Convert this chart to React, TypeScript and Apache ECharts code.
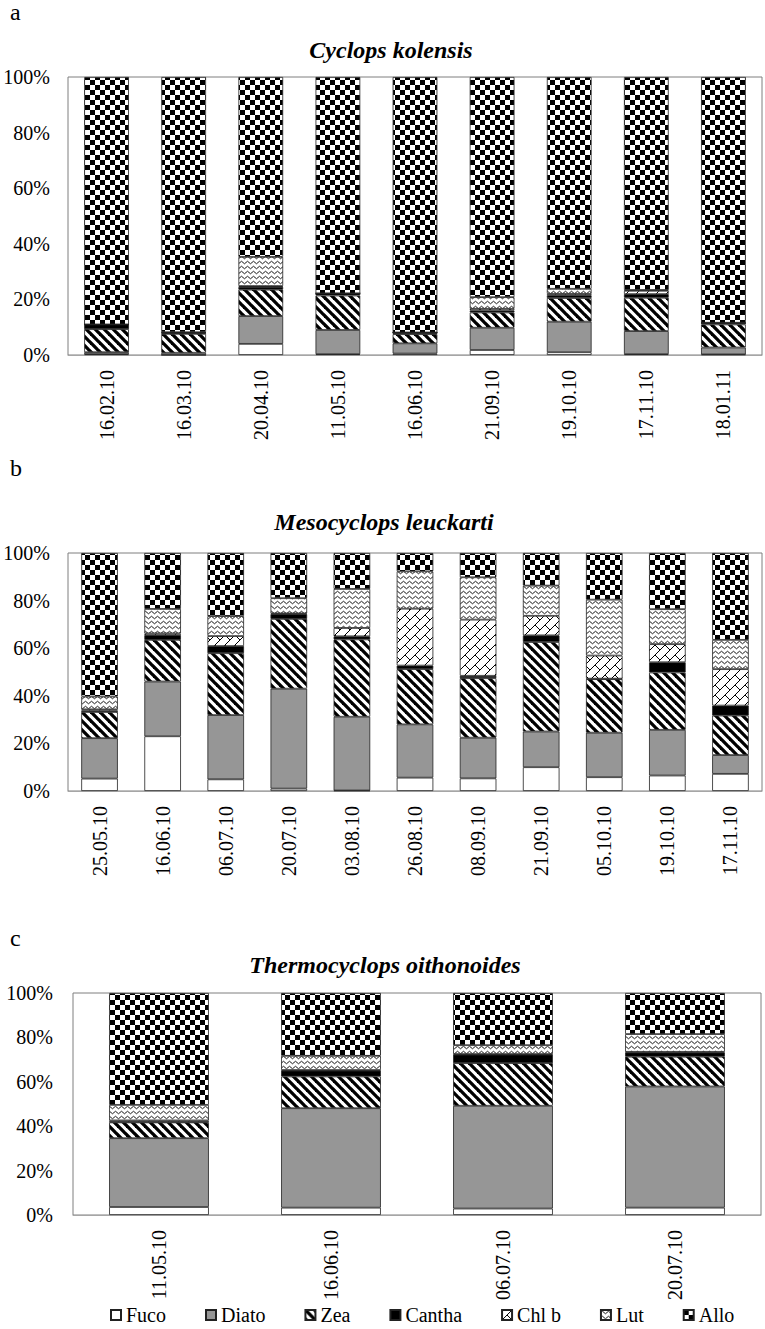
import React, { useEffect, useRef } from "react";
import * as echarts from "echarts";

// ---------- data ----------
const pigments = ["Fuco", "Diato", "Zea", "Cantha", "Chl b", "Lut", "Allo"];

// a: Cyclops kolensis
const datesA = ["16.02.10", "16.03.10", "20.04.10", "11.05.10", "16.06.10", "21.09.10", "19.10.10", "17.11.10", "18.01.11"];
const fucoA = [0.3, 0, 4, 0.3, 0.5, 1.8, 1, 0.3, 0.2];
const diatoA = [0.7, 0.8, 10, 8.7, 3.7, 8, 11, 8.3, 2.5];
const zeaA = [8.3, 6.8, 9.5, 12.4, 3.3, 5.5, 8.5, 12, 8.3];
const canthaA = [1.7, 0.4, 1, 0.8, 0.6, 0.7, 1, 1.3, 0.6];
const chlbA = [0, 0, 0.3, 0, 0, 0.6, 0.5, 1.2, 0];
const lutA = [0, 0.2, 10.5, 0, 0, 4.2, 1.8, 0.3, 0];
const alloA = [89, 91.8, 64.7, 77.8, 91.9, 79.2, 76.2, 76.6, 88.4];

// b: Mesocyclops leuckarti
const datesB = ["25.05.10", "16.06.10", "06.07.10", "20.07.10", "03.08.10", "26.08.10", "08.09.10", "21.09.10", "05.10.10", "19.10.10", "17.11.10"];
const fucoB = [5.2, 23, 4.9, 1, 0.2, 5.6, 5.3, 10, 5.8, 6.5, 7.2];
const diatoB = [17, 23, 27, 42, 31, 22.4, 17.1, 15, 18.7, 19.2, 7.9];
const zeaB = [11, 17.5, 26, 29.3, 32.5, 23.2, 25, 37.6, 22.5, 24.1, 16.6];
const canthaB = [0.6, 2, 3, 2, 1.3, 1.5, 1, 2.8, 0.2, 4.3, 4.2];
const chlbB = [0.5, 0.7, 4.2, 0.3, 3.5, 23.9, 23.6, 8.2, 9.7, 7.6, 15.3];
const lutB = [5.4, 10.3, 8.4, 6.4, 16.4, 15.7, 17.8, 12.7, 23.5, 14.7, 12.3];
const alloB = [60.3, 23.5, 26.5, 19, 15.1, 7.7, 10.2, 13.7, 19.6, 23.6, 36.5];

// c: Thermocyclops oithonoides
const datesC = ["11.05.10", "16.06.10", "06.07.10", "20.07.10"];
const fucoC = [3.6, 3.3, 2.9, 3.3];
const diatoC = [31, 44.8, 46.3, 54.6];
const zeaC = [7.1, 14.3, 19.2, 13.4];
const canthaC = [0.3, 2.6, 3.8, 1.9];
const chlbC = [0.6, 0.3, 0.3, 0.3];
const lutC = [7, 6.4, 4, 8];
const alloC = [50.4, 28.3, 23.5, 18.5];

const yTicks = [0, 20, 40, 60, 80, 100];

const panels = [
  { letter: "a", title: "Cyclops kolensis", dates: datesA, values: [fucoA, diatoA, zeaA, canthaA, chlbA, lutA, alloA] },
  { letter: "b", title: "Mesocyclops leuckarti", dates: datesB, values: [fucoB, diatoB, zeaB, canthaB, chlbB, lutB, alloB] },
  { letter: "c", title: "Thermocyclops oithonoides", dates: datesC, values: [fucoC, diatoC, zeaC, canthaC, chlbC, lutC, alloC] },
];

// ---------- layout ----------
const layout = [
  { grid: { left: 68, right: 3, top: 77, height: 278 }, letterY: 12, titleX: 391, titleY: 50 },
  { grid: { left: 68, right: 3, top: 553, height: 238 }, letterY: 468, titleX: 384, titleY: 522 },
  { grid: { left: 73, right: 4, top: 993, height: 222 }, letterY: 938, titleX: 385, titleY: 965 },
];

const FONT = '"Liberation Serif", "Times New Roman", serif';

function tile(w: number, h: number, draw: (ctx: CanvasRenderingContext2D) => void) {
  const c = document.createElement("canvas");
  c.width = w;
  c.height = h;
  const ctx = c.getContext("2d") as CanvasRenderingContext2D;
  ctx.fillStyle = "#ffffff";
  ctx.fillRect(0, 0, w, h);
  draw(ctx);
  return { image: c, repeat: "repeat", imageWidth: w, imageHeight: h } as any;
}

function makeFills() {
  const stripes = tile(9, 9, (ctx) => {
    ctx.strokeStyle = "#000";
    ctx.lineWidth = 3.3;
    for (const c of [-9, 0, 9]) {
      ctx.beginPath();
      ctx.moveTo(-3, c - 3);
      ctx.lineTo(12, c + 12);
      ctx.stroke();
    }
  });
  const brick = tile(10, 10, (ctx) => {
    ctx.strokeStyle = "#000";
    ctx.lineWidth = 1;
    ctx.beginPath();
    ctx.moveTo(11, -1);
    ctx.lineTo(-1, 11);
    ctx.moveTo(5, 5);
    ctx.lineTo(11, 11);
    ctx.stroke();
  });
  const wave = tile(6, 5, (ctx) => {
    ctx.strokeStyle = "#000";
    ctx.lineWidth = 0.9;
    ctx.beginPath();
    ctx.moveTo(0, 2.5);
    ctx.quadraticCurveTo(1.5, 0, 3, 2.5);
    ctx.quadraticCurveTo(4.5, 5, 6, 2.5);
    ctx.stroke();
  });
  const checker = tile(10, 10, (ctx) => {
    ctx.fillStyle = "#000";
    ctx.fillRect(0, 0, 5, 5);
    ctx.fillRect(5, 5, 5, 5);
  });
  return ["#ffffff", "#969696", stripes, "#000000", brick, wave, checker];
}

export default function App() {
  const ref = useRef<HTMLDivElement>(null);

  useEffect(() => {
    document.body.style.margin = "0";
    if (!ref.current) return;
    const chart = echarts.init(ref.current, undefined, { renderer: "svg" });
    const fills = makeFills();

    const grids = layout.map((l) => ({
      ...l.grid,
      show: true,
      borderColor: "#7f7f7f",
      borderWidth: 1,
      backgroundColor: "#fff",
    }));

    const xAxes = panels.map((p, i) => ({
      type: "category",
      gridIndex: i,
      data: p.dates,
      axisTick: { show: false },
      axisLine: { show: true, lineStyle: { color: "#a6a6a6", width: 1 } },
      axisLabel: { rotate: 90, interval: 0, fontSize: 20, fontFamily: FONT, color: "#000", margin: 15 },
    }));

    const yAxes = panels.map((_, i) => ({
      type: "value",
      gridIndex: i,
      min: yTicks[0],
      max: yTicks[yTicks.length - 1],
      interval: yTicks[1] - yTicks[0],
      splitLine: { show: false },
      axisTick: { show: false },
      axisLine: { show: false },
      axisLabel: { formatter: "{value}%", fontSize: 20, fontFamily: FONT, color: "#000", margin: i === 2 ? 20 : 18 },
    }));

    const series: any[] = [];
    panels.forEach((p, i) => {
      pigments.forEach((name, k) => {
        series.push({
          type: "bar",
          name,
          stack: "s" + i,
          xAxisIndex: i,
          yAxisIndex: i,
          data: p.values[k],
          barWidth: "58%",
          itemStyle: { color: fills[k], borderColor: "#222", borderWidth: 0.8 },
        });
      });
    });

    const graphic: any[] = [];
    panels.forEach((p, i) => {
      graphic.push({
        type: "text",
        x: 10,
        y: layout[i].letterY,
        style: { text: p.letter, font: `24px ${FONT}`, fill: "#000", align: "left", verticalAlign: "middle" },
      });
      graphic.push({
        type: "text",
        x: layout[i].titleX,
        y: layout[i].titleY,
        style: { text: p.title, font: `italic bold 24px ${FONT}`, fill: "#000", align: "center", verticalAlign: "middle" },
      });
    });

    chart.setOption({
      animation: false,
      backgroundColor: "#fff",
      grid: grids,
      xAxis: xAxes,
      yAxis: yAxes,
      series,
      graphic,
      legend: {
        data: pigments,
        left: 110,
        top: 1304,
        padding: 0,
        icon: "rect",
        itemWidth: 10,
        itemHeight: 10,
        itemGap: 39,
        selectedMode: false,
        textStyle: { fontSize: 20, lineHeight: 22, fontFamily: FONT, color: "#000" },
      },
    });

    return () => chart.dispose();
  }, []);

  return <div ref={ref} style={{ width: 765, height: 1329 }} />;
}
